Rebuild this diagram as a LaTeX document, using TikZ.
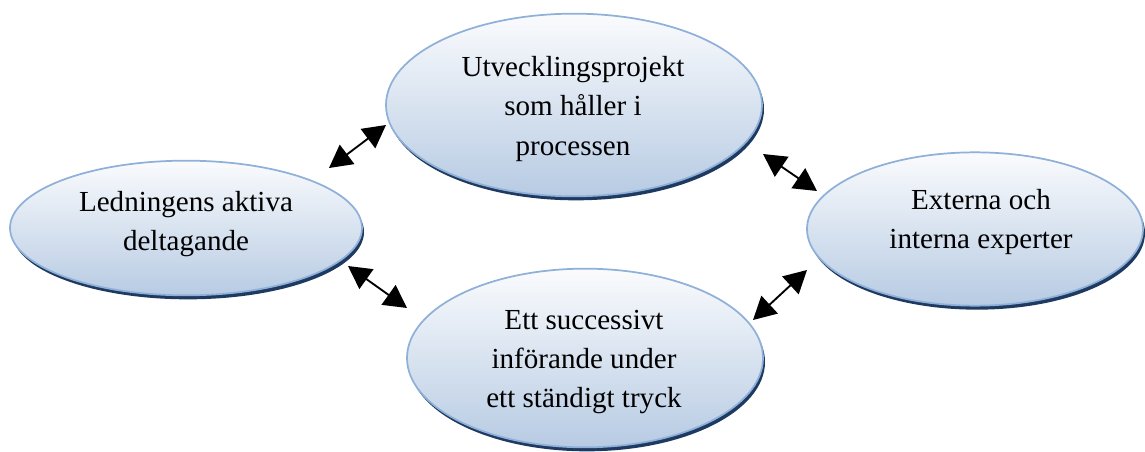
\documentclass[tikz,border=0pt]{standalone}
\usepackage{fontspec}
\setmainfont{Liberation Serif}
\usetikzlibrary{shapes.geometric,arrows.meta,shadows}
\definecolor{rim}{HTML}{8FB0D8}
\definecolor{paletop}{HTML}{FAFBFD}
\definecolor{palebot}{HTML}{B7CBE3}
\definecolor{navy}{HTML}{1F3A60}
\tikzset{
  bubble/.style={ellipse, draw=rim, line width=1.3pt, top color=paletop,
    bottom color=palebot, inner sep=0pt,
    general shadow={fill=navy, shadow xshift=1.5pt, shadow yshift=-3pt}},
  caption/.style={align=center, font=\fontsize{21.8}{29.5}\selectfont, inner sep=0pt},
  link/.style={{Triangle[length=17pt,width=18pt]}-{Triangle[length=17pt,width=18pt]},
    line width=1.4pt, black}
}
\begin{document}
\begin{tikzpicture}[x=0.75pt, y=-0.75pt]
  \useasboundingbox (0,0) rectangle (1145,452);

  % the four ellipses
  \node[bubble, minimum width=282pt, minimum height=137pt] (proj) at (574,105) {};
  \node[bubble, minimum width=264pt, minimum height=101pt] (led)  at (186,228) {};
  \node[bubble, minimum width=252pt, minimum height=115pt] (exp)  at (975,229) {};
  \node[bubble, minimum width=267pt, minimum height=134pt] (inf)  at (585,358) {};

  % their texts
  \node[caption] (projtext) at (573,109) {Utvecklingsprojekt\\som håller i\\processen};
  \node[caption] (ledtext)  at (186,224) {Ledningens aktiva\\deltagande};
  \node[caption] (exptext)  at (981,222) {Externa och\\interna experter};
  \node[caption] (inftext)  at (584,362) {Ett successivt\\införande under\\ett ständigt tryck};

  % ends of the double-headed connectors
  \coordinate (l1) at (329,168);  \coordinate (p1) at (386,125);
  \coordinate (p2) at (763,154);  \coordinate (e2) at (817,191);
  \coordinate (l3) at (348,266);  \coordinate (i3) at (407,308);
  \coordinate (i4) at (753,320);  \coordinate (e4) at (807,270);

  \draw[link] (l1) -- (p1);
  \draw[link] (p2) -- (e2);
  \draw[link] (l3) -- (i3);
  \draw[link] (i4) -- (e4);
\end{tikzpicture}
\end{document}
